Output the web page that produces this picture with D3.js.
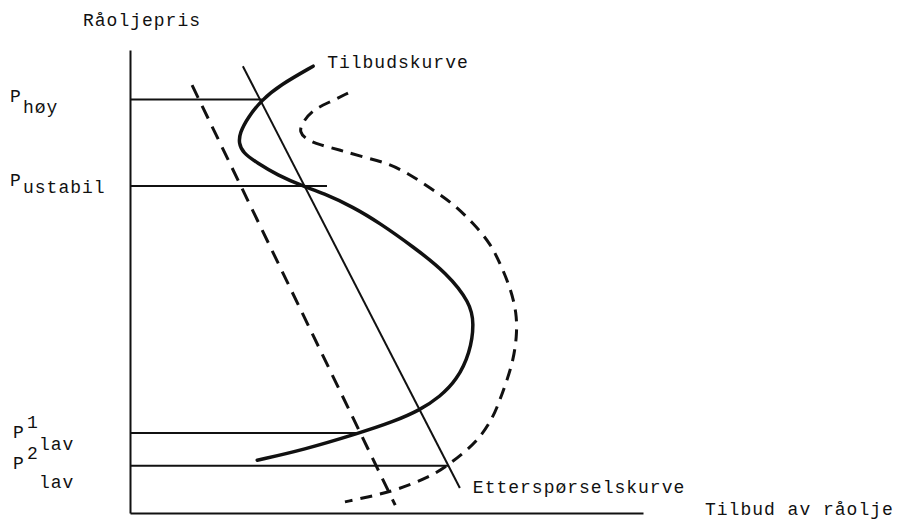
<!DOCTYPE html>
<html>
<head>
<meta charset="utf-8">
<script src="https://cdn.jsdelivr.net/npm/d3@7"></script>
<style>
  body { margin: 0; background: #fff; }
  svg text { font-family: "Liberation Mono", "DejaVu Sans Mono", monospace; font-size: 18px; letter-spacing: 1px; fill: #111; }
</style>
</head>
<body>
<svg class="chart" width="897" height="520"></svg>
<script>
// price levels (y) and where each horizontal guide meets its curve (x)
const priceLabels = ["høy", "ustabil", "lav", "lav"];
const priceSup = ["", "", "1", "2"];
const priceLevels = [89.3, 70.6, 17.3, 10.2];
const priceLineEnds = [25.7, 38.4, 44.8, 62.0];

// demand curves (straight)
const demandSolid = [[22.0, 96.5], [64.3, 5.4]];
const demandDashed = [[12.1, 92.4], [51.7, 1.7]];

// supply curve, S-shaped (thick)
const supplySolid = [
    [35.7, 96.5], [29.2, 92.4], [25.7, 89.2], [23.0, 85.5], [21.4, 82.1], [21.2, 79.9],
    [22.0, 77.8], [24.8, 75.6], [28.7, 73.0], [33.7, 70.6], [37.6, 69.1], [43.5, 66.1],
    [48.7, 62.6], [55.2, 57.5], [61.8, 51.8], [66.3, 45.4], [67.1, 41.0], [66.3, 34.6],
    [63.7, 28.7], [60.4, 25.1], [56.5, 22.2], [51.3, 19.7], [44.8, 17.3], [33.7, 13.6],
    [24.8, 11.4]
];

// shifted supply curve (dashed)
const supplyDashed = [
    [42.5, 90.7], [39.0, 88.8], [35.5, 87.0], [33.7, 84.4], [32.9, 82.3], [34.5, 80.6],
    [37.0, 79.5], [40.9, 78.4], [45.4, 76.9], [50.1, 75.6], [54.2, 73.4], [58.5, 70.2],
    [62.8, 67.0], [66.9, 62.6], [70.2, 58.3], [72.1, 54.0], [74.1, 48.8], [75.4, 43.2],
    [75.4, 38.0], [74.7, 33.0], [73.5, 28.7], [72.1, 24.4], [70.8, 20.7], [68.2, 16.2],
    [65.3, 13.2], [61.8, 10.2], [58.5, 7.8], [52.0, 5.0], [47.4, 3.7], [41.9, 2.4]
];

const svg = d3.select("svg.chart");
const x = d3.scaleLinear().domain([0, 100]).range([130, 643]);
const y = d3.scaleLinear().domain([0, 100]).range([513, 50]);

const line = d3.line().x(d => x(d[0])).y(d => y(d[1]));
const smooth = d3.line().x(d => x(d[0])).y(d => y(d[1])).curve(d3.curveBasis);

// axes without ticks
svg.append("g")
    .attr("transform", `translate(${x(0)},0)`)
    .call(d3.axisLeft(y).tickValues([]).tickSizeOuter(0))
    .select(".domain").attr("stroke", "#111").attr("stroke-width", 2);
svg.append("g")
    .attr("transform", `translate(0,${y(0)})`)
    .call(d3.axisBottom(x).tickValues([]).tickSizeOuter(0))
    .select(".domain").attr("stroke", "#111").attr("stroke-width", 2);

// horizontal price guides
svg.selectAll(".guide")
    .data(priceLevels)
    .enter().append("path")
    .attr("class", "guide")
    .attr("fill", "none")
    .attr("stroke", "#111")
    .attr("stroke-width", 2)
    .attr("d", (d, i) => line([[0, d], [priceLineEnds[i], d]]));

svg.append("path")
    .attr("fill", "none").attr("stroke", "#111").attr("stroke-width", 2)
    .attr("d", line(demandSolid));

svg.append("path")
    .attr("fill", "none").attr("stroke", "#111").attr("stroke-width", 3)
    .attr("stroke-dasharray", "14,9")
    .attr("d", line(demandDashed));

svg.append("path")
    .attr("fill", "none").attr("stroke", "#111").attr("stroke-width", 3.5)
    .attr("stroke-linecap", "round")
    .attr("d", smooth(supplySolid));

svg.append("path")
    .attr("fill", "none").attr("stroke", "#111").attr("stroke-width", 3)
    .attr("stroke-dasharray", "12,8")
    .attr("d", smooth(supplyDashed));

// price labels: P with super/subscript
const pX = [10, 10, 13, 13];
const pDy = [2.5, 0, 5, 3];
const subDy = [11, 7, 12, 19];
priceLevels.forEach((d, i) => {
    const base = y(d) + pDy[i];
    svg.append("text").attr("x", pX[i]).attr("y", base).text("P");
    if (priceSup[i]) {
        svg.append("text").attr("x", 27).attr("y", base - 10).text(priceSup[i]);
    }
    svg.append("text").attr("x", priceSup[i] ? 39 : 23).attr("y", base + subDy[i]).text(priceLabels[i]);
});

// titles
svg.append("text").attr("x", x(0) - 47).attr("y", y(100) - 24).text("Råoljepris");
svg.append("text").attr("x", x(100) + 62).attr("y", y(0) + 2).text("Tilbud av råolje");
svg.append("text").attr("x", x(supplySolid[0][0]) + 14).attr("y", y(supplySolid[0][1]) + 2).text("Tilbudskurve");
svg.append("text").attr("x", x(demandSolid[1][0]) + 13).attr("y", y(demandSolid[1][1]) + 5).text("Etterspørselskurve");
</script>
</body>
</html>
